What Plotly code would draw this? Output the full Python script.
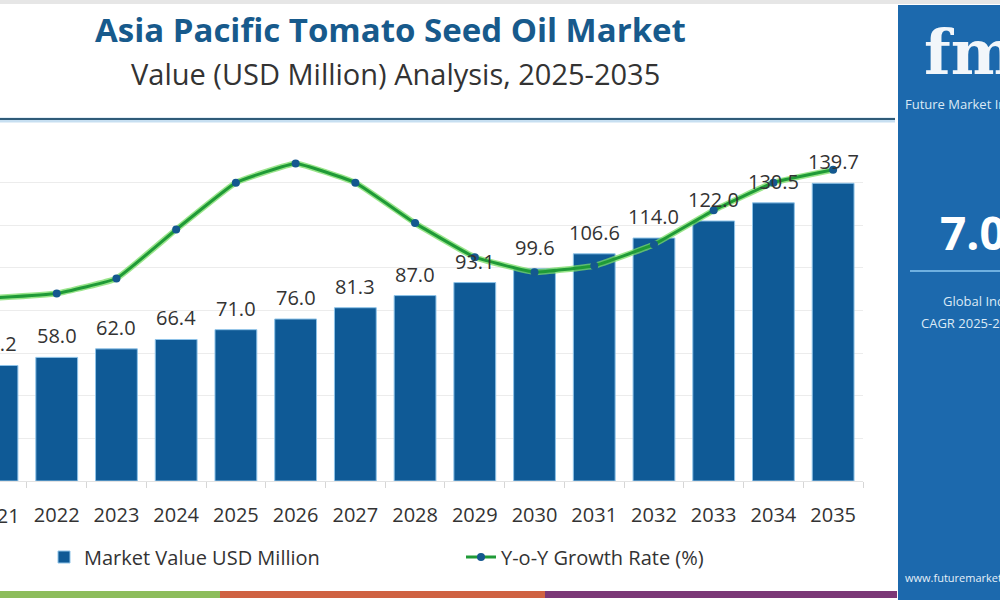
import plotly.graph_objects as go

# ---------------- data ----------------
years = list(range(2021, 2036))
market_value = [54.2, 58.0, 62.0, 66.4, 71.0, 76.0, 81.3, 87.0, 93.1, 99.6,
                106.6, 114.0, 122.0, 130.5, 139.7]
yoy_growth = [8.6, 8.8, 9.5, 11.8, 14.0, 14.9, 14.0, 12.1, 10.5, 9.8,
              10.1, 11.1, 12.7, 14.0, 14.6]
value_labels = [f"{v:.1f}" for v in market_value]
tick_labels = [str(y) for y in years]

title_text = "Asia Pacific Tomato Seed Oil Market"
subtitle_text = "Value (USD Million) Analysis, 2025-2035"

# ---------------- style ----------------
FONT = "Open Sans"
BAR = "#0f5a96"
PANEL = "#1c69ad"
PLOT_W, PLOT_L = 863, 0
PLOT_TOP, PLOT_BOT = 140, 481
X_RANGE = [years[0] + 3 / 59.71, years[-1] + 0.5]
Y_RANGE = [0, 160]


def X(px):
    return (px - PLOT_L) / PLOT_W


def Y(py):
    return (PLOT_BOT - py) / (PLOT_BOT - PLOT_TOP)


def xdata_to_paper(v):
    # the axis scale, used for labels that sit just outside the visible range
    return (v - X_RANGE[0]) / (X_RANGE[1] - X_RANGE[0])


def ydata_to_paper(v):
    return (v - Y_RANGE[0]) / (Y_RANGE[1] - Y_RANGE[0])


fig = go.Figure()
fig.add_trace(go.Bar(
    x=years, y=market_value, width=0.7, name="Market Value USD Million",
    marker=dict(color=BAR, line=dict(color="#8ec3e8", width=1)),
    hoverinfo="x+y",
))
fig.add_trace(go.Scatter(
    x=years, y=yoy_growth, yaxis="y2", mode="lines", showlegend=False,
    line=dict(color="rgba(120,220,100,0.75)", width=6, shape="spline", smoothing=0.3),
    hoverinfo="skip",
))
fig.add_trace(go.Scatter(
    x=years, y=yoy_growth, yaxis="y2", mode="lines+markers",
    name="Y-o-Y Growth Rate (%)", cliponaxis=False,
    line=dict(color="#1f9a37", width=3, shape="spline", smoothing=0.3),
    marker=dict(color="#14588f", size=8),
))

shapes = [
    dict(type="rect", xref="paper", yref="paper", x0=X(0), x1=X(1000), y0=Y(0), y1=Y(4),
         fillcolor="#e6e6e6", line=dict(width=0), layer="below"),
    dict(type="line", xref="paper", yref="paper", x0=X(0), x1=X(895), y0=Y(120), y1=Y(120),
         line=dict(color="rgba(130,185,225,0.45)", width=5)),
    dict(type="line", xref="paper", yref="paper", x0=X(0), x1=X(895), y0=Y(119), y1=Y(119),
         line=dict(color="#2f5b78", width=2)),
    dict(type="rect", xref="paper", yref="paper", x0=X(898), x1=X(1000), y0=Y(5), y1=Y(600),
         fillcolor=PANEL, line=dict(width=0)),
    dict(type="line", xref="paper", yref="paper", x0=X(910), x1=X(1000), y0=Y(271), y1=Y(271),
         line=dict(color="#6fb0e0", width=2)),
    dict(type="rect", xref="paper", yref="paper", x0=X(0), x1=X(220), y0=Y(591), y1=Y(598),
         fillcolor="#8dbd5c", line=dict(width=0)),
    dict(type="rect", xref="paper", yref="paper", x0=X(220), x1=X(545), y0=Y(591), y1=Y(598),
         fillcolor="#cf6242", line=dict(width=0)),
    dict(type="rect", xref="paper", yref="paper", x0=X(545), x1=X(897), y0=Y(591), y1=Y(598),
         fillcolor="#7b3877", line=dict(width=0)),
]

annotations = [
    dict(text=f"<b>{title_text}</b>", xref="paper", yref="paper", x=X(390), y=Y(29),
         xanchor="center", yanchor="middle", showarrow=False,
         font=dict(family=FONT, size=33, color="#175a8c")),
    dict(text=subtitle_text, xref="paper", yref="paper", x=X(395), y=Y(74),
         xanchor="center", yanchor="middle", showarrow=False,
         font=dict(family=FONT, size=29, color="#333333")),
    # first category label (partly outside the visible axis range)
    dict(text=tick_labels[0], xref="paper", yref="paper", x=xdata_to_paper(years[0]), y=Y(515),
         xanchor="center", yanchor="middle", showarrow=False,
         font=dict(family=FONT, size=20, color="#333333")),
    dict(text="<b>fmi</b>", xref="paper", yref="paper", x=X(922), y=Y(52),
         xanchor="left", yanchor="middle", showarrow=False,
         font=dict(family="DejaVu Serif", size=62, color="#f2f6fa")),
    dict(text="Future Market Insights", xref="paper", yref="paper", x=X(903), y=Y(104),
         xanchor="left", yanchor="middle", showarrow=False,
         font=dict(family=FONT, size=13, color="#dbe9f5")),
    dict(text="<b>7.0%</b>", xref="paper", yref="paper", x=X(938), y=Y(232),
         xanchor="left", yanchor="middle", showarrow=False,
         font=dict(family=FONT, size=46, color="#ffffff")),
    dict(text="Global Industry", xref="paper", yref="paper", x=X(941), y=Y(301),
         xanchor="left", yanchor="middle", showarrow=False,
         font=dict(family=FONT, size=13, color="#dbe9f5")),
    dict(text="CAGR 2025-2035", xref="paper", yref="paper", x=X(919), y=Y(323),
         xanchor="left", yanchor="middle", showarrow=False,
         font=dict(family=FONT, size=13, color="#dbe9f5")),
    dict(text="www.futuremarketinsights.com", xref="paper", yref="paper", x=X(903), y=Y(577),
         xanchor="left", yanchor="middle", showarrow=False,
         font=dict(family=FONT, size=11, color="#e6f0f8")),
]
# bar value labels
for yr, v, lab in zip(years, market_value, value_labels):
    if X_RANGE[0] <= yr <= X_RANGE[1]:
        annotations.append(dict(text=lab, xref="x", yref="y", x=yr, y=v,
                                xanchor="center", yanchor="bottom", yshift=6,
                                showarrow=False,
                                font=dict(family=FONT, size=20, color="#333333")))
    else:
        annotations.append(dict(text=lab, xref="paper", yref="paper",
                                x=xdata_to_paper(yr), y=ydata_to_paper(v),
                                xanchor="center", yanchor="bottom", yshift=6,
                                showarrow=False,
                                font=dict(family=FONT, size=20, color="#333333")))

fig.update_layout(
    width=1000, height=600,
    margin=dict(l=PLOT_L, r=1000 - PLOT_L - PLOT_W, t=PLOT_TOP, b=600 - PLOT_BOT),
    paper_bgcolor="white", plot_bgcolor="white",
    font=dict(family=FONT, color="#333333"),
    xaxis=dict(
        range=X_RANGE,
        tickmode="array", tickvals=years, ticktext=tick_labels,
        tickfont=dict(size=20, color="#333333", family=FONT),
        ticks="outside", ticklen=16, tickcolor="rgba(0,0,0,0)",
        showline=True, linecolor="#e3e3e3", linewidth=1,
        showgrid=False, zeroline=False,
        minor=dict(tickmode="array", tickvals=[y + 0.5 for y in years],
                   ticks="outside", ticklen=6, tickcolor="#d6d6d6", showgrid=False),
    ),
    yaxis=dict(range=Y_RANGE, dtick=20, showgrid=True, gridcolor="#ececec",
               showticklabels=False, zeroline=False, ticks=""),
    yaxis2=dict(range=[0, 16], overlaying="y", visible=False),
    legend=dict(orientation="h", x=X(44), y=Y(557), xanchor="left", yanchor="middle",
                font=dict(size=20, color="#333333", family=FONT),
                entrywidth=372, entrywidthmode="pixels", bgcolor="rgba(0,0,0,0)"),
    shapes=shapes,
    annotations=annotations,
)

fig.write_html("out.html")
